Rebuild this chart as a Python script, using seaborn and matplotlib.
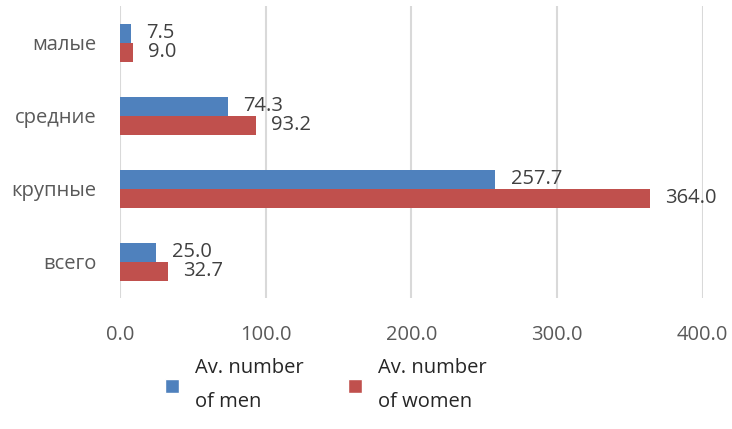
import pandas as pd
import matplotlib.pyplot as plt
import seaborn as sns
from matplotlib.patches import Patch

categories = ["малые", "средние", "крупные", "всего"]
men = [7.5, 74.3, 257.7, 25.0]
women = [9.0, 93.2, 364.0, 32.7]
series = ["Av. number\nof men", "Av. number\nof women"]
colors = ["#4F81BD", "#C0504D"]

df = pd.DataFrame({
    "category": categories * 2,
    "value": men + women,
    "series": [series[0]] * len(men) + [series[1]] * len(women),
})

sns.set_style("white")
plt.rcParams["font.family"] = ["Open Sans", "DejaVu Sans"]

fig = plt.figure(figsize=(7.32, 4.29), dpi=100)
ax = fig.add_axes([0.164, 0.305, 0.796, 0.681])

sns.barplot(data=df, y="category", x="value", hue="series", order=categories,
            hue_order=series, palette=colors, orient="h", width=0.52,
            saturation=1, legend=False, linewidth=0, edgecolor="none", ax=ax)

# value labels next to the bar ends
for container in ax.containers:
    for bar in container:
        w = bar.get_width()
        yc = bar.get_y() + bar.get_height() / 2
        ax.annotate(f"{w:.1f}", (w, yc), xytext=(11, 0), textcoords="offset points",
                    ha="left", va="center", fontsize=14.5, color="#404040")

ax.set_xlim(0, 400)
ax.set_xticks([0, 100, 200, 300, 400])
ax.set_xticklabels([f"{t:.1f}" for t in [0, 100, 200, 300, 400]])
ax.set_xlabel("")
ax.set_ylabel("")
ax.tick_params(axis="x", length=0, pad=19, labelsize=14.5, labelcolor="#595959")
ax.tick_params(axis="y", length=0, pad=17, labelsize=14.5, labelcolor="#595959")
ax.grid(axis="x", color="#d9d9d9", linewidth=1.5)
ax.set_axisbelow(True)
sns.despine(ax=ax, left=True, bottom=True)

handles = [Patch(facecolor=c) for c in colors]
leg = fig.legend(handles, series, loc="center left", bbox_to_anchor=(0.2, 0.102),
                 ncol=2, frameon=False, fontsize=14.5, handlelength=0.7, handleheight=0.7,
                 handletextpad=0.8, columnspacing=2.2)
for t in leg.get_texts():
    t.set_linespacing(1.9)
    t.set_color("#262626")

fig.savefig("out.png", dpi=100)
